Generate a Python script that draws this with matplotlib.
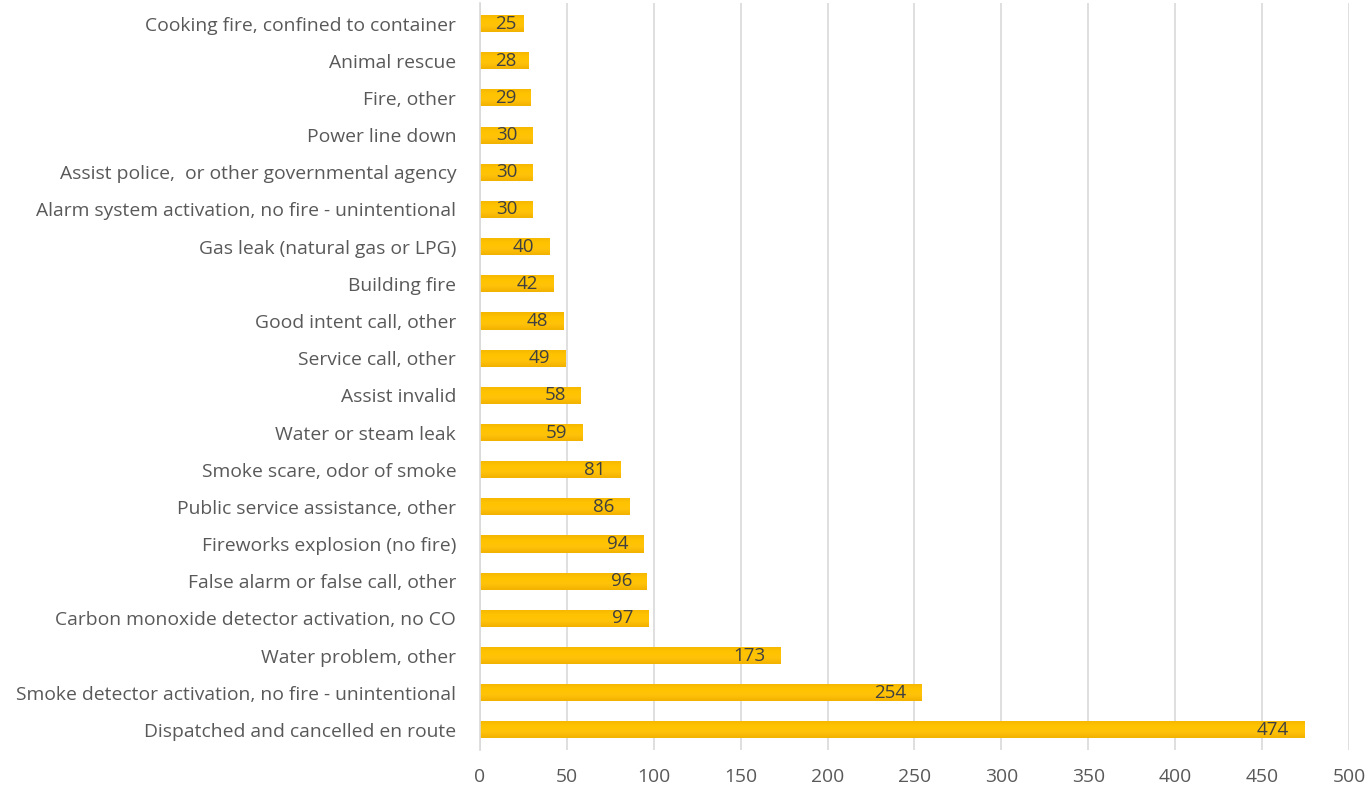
import numpy as np
import matplotlib.pyplot as plt
from matplotlib.colors import LinearSegmentedColormap

categories = [
    "Dispatched and cancelled en route",
    "Smoke detector activation, no fire - unintentional",
    "Water problem, other",
    "Carbon monoxide detector activation, no CO",
    "False alarm or false call, other",
    "Fireworks explosion (no fire)",
    "Public service assistance, other",
    "Smoke scare, odor of smoke",
    "Water or steam leak",
    "Assist invalid",
    "Service call, other",
    "Good intent call, other",
    "Building fire",
    "Gas leak (natural gas or LPG)",
    "Alarm system activation, no fire - unintentional",
    "Assist police,  or other governmental agency",
    "Power line down",
    "Fire, other",
    "Animal rescue",
    "Cooking fire, confined to container",
]
counts = [474, 254, 173, 97, 96, 94, 86, 81, 59, 58, 49, 48, 42, 40, 30, 30, 30, 29, 28, 25]
x_ticks = [0, 50, 100, 150, 200, 250, 300, 350, 400, 450, 500]

plt.rcParams["font.family"] = ["Open Sans", "DejaVu Sans"]
text_color = "#595959"

fig = plt.figure(figsize=(13.71, 7.89), dpi=100)
ax = fig.add_axes([0.350, 0.049, 0.634, 0.947])

y = np.arange(len(categories))
bars = ax.barh(y, counts, height=0.46, color="#FFC000", edgecolor="none", zorder=2)

# vertical gold gradient on each bar
grad_cmap = LinearSegmentedColormap.from_list(
    "gold", ["#F2B100", "#FFC20A", "#FFC400", "#F5B600"])
grad = np.linspace(0, 1, 64).reshape(-1, 1)
for b in bars:
    x0, y0 = b.get_x(), b.get_y()
    w = b.get_width()
    im = ax.imshow(grad, cmap=grad_cmap, aspect="auto", zorder=2,
                   extent=(x0, x0 + w, y0, y0 + b.get_height()),
                   origin="lower")
    im.set_clip_path(b)
    # label sits inside the end, but never closer than the padding to the axis
    label = str(int(w))
    x_right = max(w - 8.5, 8.5 + 6.3 * len(label))
    ax.text(x_right, y0 + b.get_height() / 2, label,
            ha="right", va="center", fontsize=13.5, color="#404040", zorder=3)

ax.set_xlim(0, 500)
ax.set_ylim(-0.55, len(categories) - 0.45)
ax.set_xticks(x_ticks)
ax.set_yticks(y)
ax.set_yticklabels(categories)
ax.tick_params(axis="both", length=0, labelsize=13.9, colors=text_color)
ax.tick_params(axis="y", pad=17)
ax.tick_params(axis="x", pad=13)

ax.grid(axis="x", color="#D9D9D9", linewidth=1.2, zorder=0)
ax.set_axisbelow(True)
for side in ["top", "right", "bottom"]:
    ax.spines[side].set_visible(False)
ax.spines["left"].set_color("#D9D9D9")
ax.spines["left"].set_linewidth(1.2)

fig.savefig("out.png", dpi=100, facecolor="white")
